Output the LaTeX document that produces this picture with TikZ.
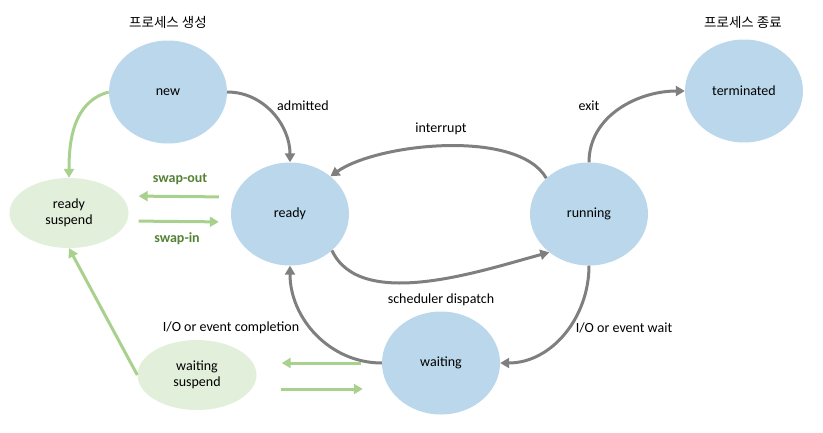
\documentclass[tikz,border=0pt]{standalone}
\usepackage{fontspec}
\setmainfont{Carlito}
\newfontfamily\krfont{Noto Sans CJK KR}
\usetikzlibrary{shapes.geometric,arrows.meta}
\definecolor{stblue}{HTML}{BAD7EC}
\definecolor{stgreen}{HTML}{E2EFDA}
\definecolor{argreen}{HTML}{A9D18E}
\definecolor{argray}{HTML}{7F7F7F}
\definecolor{txgreen}{HTML}{548235}
\tikzset{
  state/.style={ellipse, fill=stblue, minimum width=118pt, minimum height=103pt, inner sep=0pt, font=\fontsize{14}{16}\selectfont},
  sstate/.style={ellipse, fill=stgreen, minimum width=119pt, minimum height=70pt, inner sep=0pt, align=center, font=\fontsize{14}{16}\selectfont},
  grayarr/.style={draw=argray, line width=3pt, -{Triangle[width=10pt,length=9pt]}},
  greenarr/.style={draw=argreen, line width=3pt, -{Triangle[width=10pt,length=9pt]}},
  lbl/.style={font=\fontsize{14}{16}\selectfont, inner sep=0pt},
  glbl/.style={font=\fontsize{14}{16}\selectfont\bfseries, text=txgreen, inner sep=0pt},
  klbl/.style={font=\krfont\fontsize{13.5}{15}\selectfont, inner sep=0pt}
}
\begin{document}
\begin{tikzpicture}[x=1pt,y=-1pt]
\useasboundingbox (0,0) rectangle (823,432);
\node[state] (new) at (168,92) {new};
\node[state] (term) at (744,91) {terminated};
\node[state] (ready) at (290,214) {ready};
\node[state] (run) at (589,214) {running};
\node[state] (wait) at (441,363) {waiting};
\node[sstate] (rs) at (69,213) {ready\\suspend};
\node[sstate] (ws) at (197,375) {waiting\\suspend};

\node[klbl] (k1) at (168,22) {프로세스 생성};
\node[klbl] (k2) at (743,22) {프로세스 종료};

% gray transitions
\draw[grayarr] (new.east) to[out=0,in=90] (ready.north);
\draw[grayarr] (run.140) to[out=120,in=35,looseness=0.68] (ready.43);
\draw[grayarr] (ready.-41) to[out=-65,in=195,looseness=0.8] (run.224);
\draw[grayarr] (run.north) to[out=90,in=180] (term.west);
\draw[grayarr] (run.south) to[out=-90,in=0] (wait.east);
\draw[grayarr] (wait.west) to[out=180,in=-90] (ready.south);

% green transitions
\draw[greenarr] (new.west) to[out=195,in=90] (rs.north);
\draw[greenarr, shorten <=12pt, shorten >=10pt] ([yshift=17pt]ready.west) -- ([yshift=17pt]rs.east);
\draw[greenarr, shorten <=10pt, shorten >=12pt] ([yshift=-8pt]rs.east) -- ([yshift=-8pt]ready.west);
\draw[greenarr] (ws.west) -- (rs.south);
\draw[greenarr, shorten <=21pt, shorten >=25pt] (wait.west) -- (wait.west -| ws.east);
\draw[greenarr, shorten <=24pt, shorten >=19pt] ([yshift=-14pt]ws.east) -- ([yshift=-14pt]ws.east -| wait.west);

% labels
\node[lbl] (l1) at (303,106) {admitted};
\node[lbl] (l2) at (589,106) {exit};
\node[lbl] (l3) at (441,129) {interrupt};
\node[lbl] (l4) at (441,300) {scheduler dispatch};
\node[lbl] (l5) at (231,328) {I/O or event completion};
\node[lbl] (l6) at (624,328) {I/O or event wait};
\node[glbl] (l7) at (180,179) {swap-out};
\node[glbl] (l8) at (177,239) {swap-in};
\end{tikzpicture}
\end{document}
